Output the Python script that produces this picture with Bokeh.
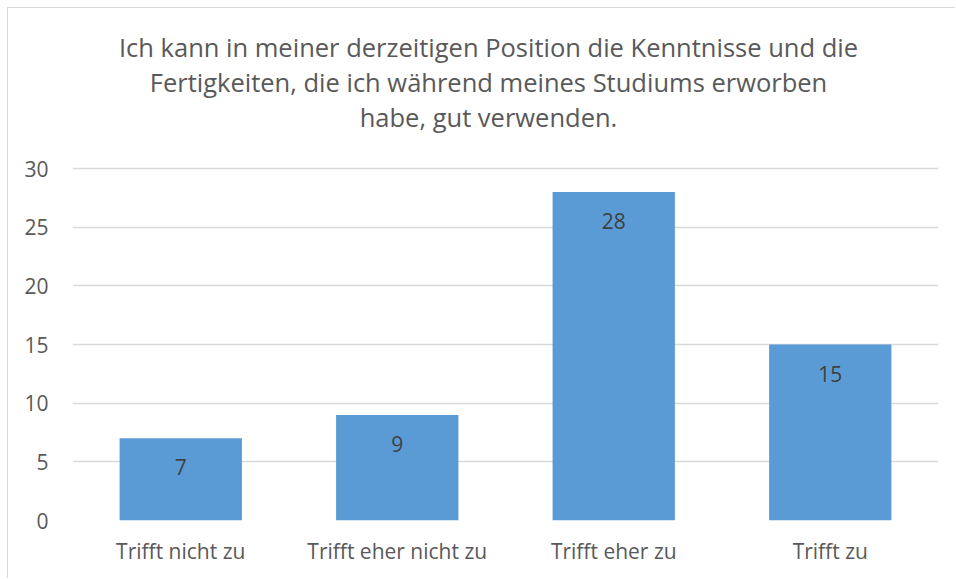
from bokeh.plotting import figure
from bokeh.models import Range1d, ColumnDataSource, Label
from bokeh.core.properties import value
from bokeh.embed import file_html
from bokeh.resources import INLINE

categories = ["Trifft nicht zu", "Trifft eher nicht zu", "Trifft eher zu", "Trifft zu"]
counts = [7, 9, 28, 15]
title_lines = [
    "Ich kann in meiner derzeitigen Position die Kenntnisse und die",
    "Fertigkeiten, die ich während meines Studiums erworben",
    "habe, gut verwenden.",
]
y_ticks = [0, 5, 10, 15, 20, 25, 30]

FONT = "Open Sans"
TXT = "#595959"

H, W = 571, 948
BOTTOM, PLOT_H = 59, 352          # pixel room below the axis, pixel height of 0..30
frame_h = H - BOTTOM
y_top = y_ticks[-1] * frame_h / PLOT_H   # frame extends to the top so the title can live in it

src = ColumnDataSource(dict(cat=categories, n=counts, lab=[str(c) for c in counts]))

p = figure(x_range=categories, y_range=Range1d(0, y_top), width=W, height=H,
           output_backend="svg", toolbar_location=None,
           min_border_left=64, min_border_right=18, min_border_bottom=BOTTOM, min_border_top=0,
           styles={"margin-left": "7px", "margin-top": "7px",
                   "border-left": "1px solid #d9d9d9", "border-top": "1px solid #d9d9d9"})
p.title = None
title_y = [474, 439, 404]
for line, ty in zip(title_lines, title_y):
    p.add_layout(Label(x=416, y=ty, x_units="screen", y_units="screen", text=line,
                       text_align="center", text_baseline="middle", text_font=FONT,
                       text_font_size="25.5px", text_color=TXT))
p.outline_line_color = None
p.background_fill_color = "white"
p.border_fill_color = "white"

p.vbar(x="cat", top="n", width=0.565, source=src, color="#5B9BD5", line_color=None)
p.text(x="cat", y="n", text="lab", source=src, y_offset=29, text_align="center",
       text_baseline="middle", text_font=value(FONT), text_font_size="21px", text_color="#404040")

p.xgrid.grid_line_color = None
p.ygrid.grid_line_color = "#d9d9d9"
p.ygrid.grid_line_width = 1.5
p.yaxis.ticker = y_ticks
for ax in (p.xaxis[0], p.yaxis[0]):
    ax.axis_line_color = None
    ax.major_tick_line_color = None
    ax.minor_tick_line_color = None
    ax.major_tick_out = 0
    ax.major_tick_in = 0
    ax.major_label_text_font = FONT
    ax.major_label_text_font_size = "21px"
    ax.major_label_text_color = TXT
p.yaxis.major_label_standoff = 24
p.xaxis.major_label_standoff = 16

open("out.html", "w").write(file_html(p, INLINE))
